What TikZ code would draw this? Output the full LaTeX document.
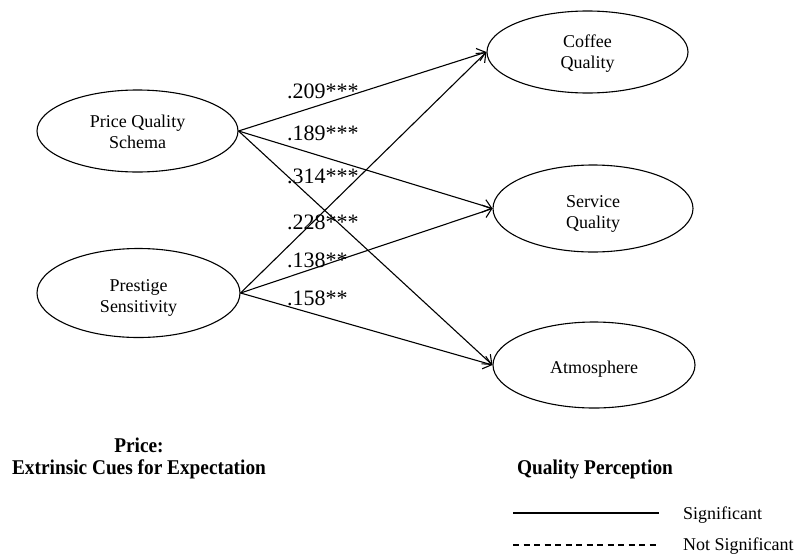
\documentclass[tikz,border=0pt]{standalone}
\usepackage{fontspec}
\setmainfont{Liberation Serif}
\newfontfamily\headfont{Liberation Serif}[FakeStretch=0.92]
\usetikzlibrary{arrows.meta,shapes.geometric}

% lower a centred text block inside its node without changing the node's size
\newcommand{\droptext}[2]{\raisebox{-#1}[\height][\depth]{\begin{tabular}{@{}c@{}}#2\end{tabular}}}

\tikzset{
  construct/.style={ellipse, draw, line width=1.1pt, inner sep=0pt, align=center,
    font=\fontsize{18}{21}\selectfont},
  effect/.style={line width=1.1pt, -{Straight Barb[length=8pt,width=13pt,line width=1.1pt]}},
  coef/.style={anchor=base west, inner sep=0pt, font=\fontsize{22}{26}\selectfont},
  heading/.style={anchor=base, inner sep=0pt, font=\headfont\bfseries\fontsize{21}{22}\selectfont},
  legendtext/.style={anchor=base west, inner sep=0pt, font=\fontsize{18}{21}\selectfont},
  legendline/.style={line width=1.1pt}
}

\begin{document}
\begin{tikzpicture}[x=1pt,y=-1pt]
\useasboundingbox[fill=white] (0,0) rectangle (794,554);

% exogenous constructs
\node[construct, minimum width=201pt, minimum height=82pt] (pqs) at (137.5,131) {\droptext{3pt}{Price Quality\\Schema}};
\node[construct, minimum width=203pt, minimum height=89pt] (ps) at (138.5,293) {\droptext{5pt}{Prestige\\Sensitivity}};

% endogenous constructs
\node[construct, minimum width=201pt, minimum height=82pt] (coffee) at (587.5,52) {\droptext{2pt}{Coffee\\Quality}};
\node[construct, minimum width=200pt, minimum height=87pt] (service) at (593,208.5) {\droptext{5pt}{Service\\Quality}};
\node[construct, minimum width=202pt, minimum height=86pt] (atmos) at (594,365) {\droptext{4pt}{Atmosphere}};

% structural paths
\draw[effect] (pqs.east) -- (coffee.west);
\draw[effect] (pqs.east) -- (service.west);
\draw[effect] (pqs.east) -- (atmos.west);
\draw[effect] (ps.east) -- (coffee.west);
\draw[effect] (ps.east) -- (service.west);
\draw[effect] (ps.east) -- (atmos.west);

% path coefficients
\node[coef] (c1) at (287,98) {.209***};
\node[coef] (c2) at (287,140) {.189***};
\node[coef] (c3) at (287,183) {.314***};
\node[coef] (c4) at (287,229) {.228***};
\node[coef] (c5) at (287,267) {.138**};
\node[coef] (c6) at (287,305) {.158**};

% group headings
\node[heading] (hprice) at (139,452) {Price:};
\node[heading] (hcues) at (139,474) {Extrinsic Cues for Expectation};
\node[heading] (hqual) at (595,474) {Quality Perception};

% legend
\coordinate (s1) at (513,513);
\coordinate (s2) at (659,513);
\coordinate (n1) at (513,545);
\coordinate (n2) at (659,545);
\draw[legendline] (s1) -- (s2);
\draw[legendline, dash pattern=on 6pt off 4.5pt] (n1) -- (n2);
\node[legendtext] (lsig) at (683,519) {Significant};
\node[legendtext] (lns) at (683,550) {Not Significant};
\end{tikzpicture}
\end{document}
